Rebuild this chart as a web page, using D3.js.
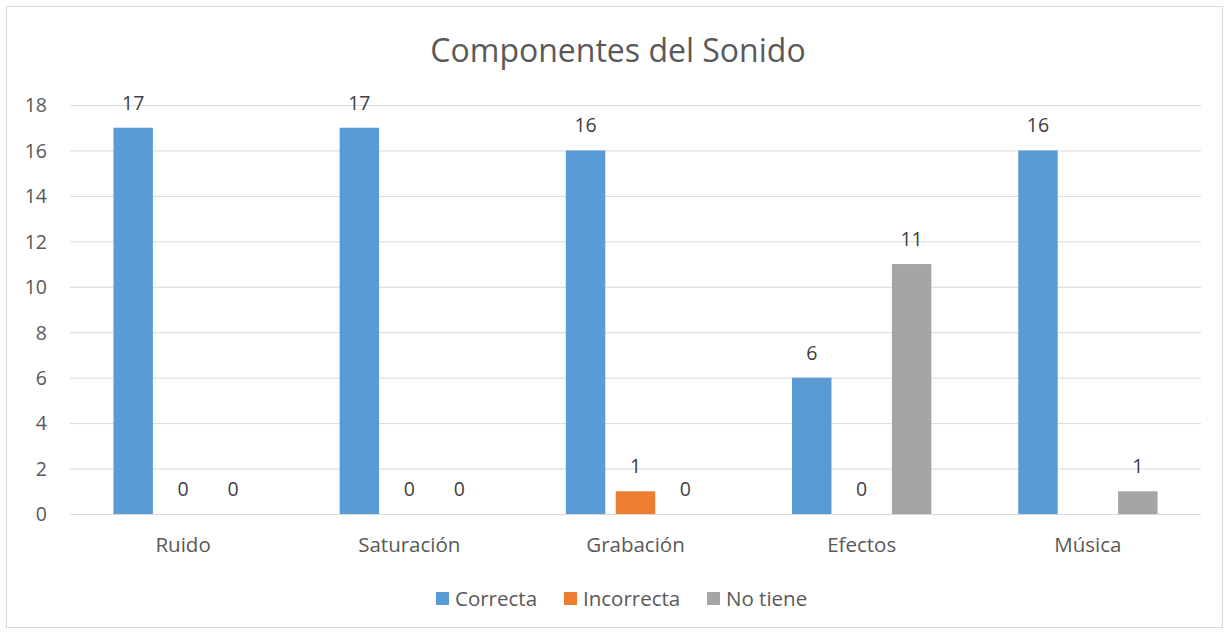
<!DOCTYPE html>
<html><head><meta charset="utf-8">
<script src="https://cdn.jsdelivr.net/npm/d3@7"></script>
<style>body{margin:0;background:#fff;} text{font-family:"Open Sans", sans-serif;}</style>
</head><body>
<svg id="c" width="1229" height="633"></svg>
<script>
const categories = ["Ruido","Saturación","Grabación","Efectos","Música"];
const seriesNames = ["Correcta","Incorrecta","No tiene"];
const correcta = [17,17,16,6,16];
const incorrecta = [0,0,1,0,null];
const noTiene = [0,0,0,11,1];
const yTicks = [0,2,4,6,8,10,12,14,16,18];
const colors = ["#5B9BD5","#ED7D31","#A5A5A5"];
const title = "Componentes del Sonido";

(function(){
const values = [correcta, incorrecta, noTiene];
const svg = d3.select("#c");
svg.append("rect").attr("x",6.5).attr("y",6.5).attr("width",1216).attr("height",621)
  .attr("fill","#fff").attr("stroke","#D9D9D9");

const pl=70, pr=1201, pt=105, pb=514;
const x0 = d3.scaleBand().domain(categories).range([pl,pr]);
const x1 = d3.scaleBand().domain(seriesNames).range([0,x0.bandwidth()]).paddingInner(0.21).paddingOuter(0.87);
const y = d3.scaleLinear().domain([0,18]).range([pb,pt]);

svg.append("g").selectAll("line").data(yTicks).join("line")
  .attr("x1",pl).attr("x2",pr).attr("y1",d=>y(d)+0.5).attr("y2",d=>y(d)+0.5)
  .attr("stroke","#D9D9D9").attr("stroke-width",1);

const yAxis = d3.axisLeft(y).tickValues(yTicks).tickSize(0).tickPadding(0);
const ga = svg.append("g").attr("transform",`translate(${pl-23},0)`).call(yAxis);
ga.select(".domain").remove();
ga.selectAll("text").attr("font-size",19.5).attr("fill","#595959").attr("font-family","Open Sans, sans-serif").attr("text-anchor","end").attr("dy","0.35em");

const xAxis = d3.axisBottom(x0).tickSize(0).tickPadding(0);
const gx = svg.append("g").attr("transform",`translate(0,${pb+31})`).call(xAxis);
gx.select(".domain").remove();
gx.selectAll("text").attr("font-size",20.5).attr("fill","#595959").attr("font-family","Open Sans, sans-serif").attr("dy","0.35em");

const groups = svg.append("g").selectAll("g").data(categories).join("g")
  .attr("transform",d=>`translate(${x0(d)},0)`);
groups.each(function(cat,ci){
  const g = d3.select(this);
  seriesNames.forEach((s,si)=>{
    const v = values[si][ci];
    if (v === null) return;
    g.append("rect").attr("x",x1(s)).attr("width",x1.bandwidth())
      .attr("y",y(v)).attr("height",pb-y(v)).attr("fill",colors[si]);
    g.append("text").attr("x",x1(s)+x1.bandwidth()/2).attr("y",y(v)-18)
      .attr("text-anchor","middle").attr("font-size",19.5).attr("fill","#404040").text(v);
  });
});

svg.append("text").attr("x",618).attr("y",62).attr("text-anchor","middle")
  .attr("font-size",32).attr("fill","#595959").text(title);

const lg = svg.append("g");
const legendX = [436, 564, 707];
seriesNames.forEach((s,i)=>{
  lg.append("rect").attr("x",legendX[i]).attr("y",592).attr("width",13).attr("height",13).attr("fill",colors[i]);
  lg.append("text").attr("x",legendX[i]+19).attr("y",598.5).attr("dy","0.35em").attr("font-size",20.5).attr("fill","#595959").text(s);
});
})();
</script>
</body></html>
